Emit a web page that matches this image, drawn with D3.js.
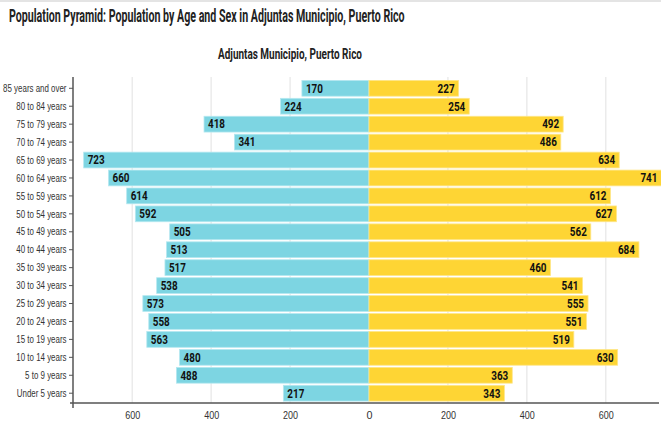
<!DOCTYPE html>
<html lang="en">
<head>
<meta charset="utf-8">
<title>Population Pyramid</title>
<script src="https://d3js.org/d3.v7.min.js"></script>
<style>
  body { margin: 0; background: #fff; font-family: Roboto, "Liberation Sans", sans-serif; }
  .bar-label { font-weight: 700; font-size: 12px; fill: #111; }
  .axis text { font-size: 11.5px; fill: #333; }
  .axis path, .axis line { stroke: #555; }
</style>
</head>
<body>
<div class="chart"></div>
<script>
// age groups, top to bottom
const ageGroups = ["85 years and over", "80 to 84 years", "75 to 79 years", "70 to 74 years",
  "65 to 69 years", "60 to 64 years", "55 to 59 years", "50 to 54 years", "45 to 49 years",
  "40 to 44 years", "35 to 39 years", "30 to 34 years", "25 to 29 years", "20 to 24 years",
  "15 to 19 years", "10 to 14 years", "5 to 9 years", "Under 5 years"];
const male   = [170, 224, 418, 341, 723, 660, 614, 592, 505, 513, 517, 538, 573, 558, 563, 480, 488, 217];
const female = [227, 254, 492, 486, 634, 741, 612, 627, 562, 684, 460, 541, 555, 551, 519, 630, 363, 343];
const xTicks = [-600, -400, -200, 0, 200, 400, 600];

const width = 661, height = 427;
const svg = d3.select('.chart').append('svg')
    .attr('width', width)
    .attr('height', height);

// squeeze a text horizontally so it fits a given width (condensed look)
function condense(sel, left, wanted) {
    sel.each(function() {
        const w = this.getComputedTextLength();
        const k = wanted / w;
        d3.select(this).attr('x', left / k).attr('transform', 'scale(' + k + ',1)');
    });
}

// faint header shadow at the top
svg.append('rect').attr('x', 0).attr('y', 0).attr('width', width).attr('height', 2).attr('fill', '#e4e4e4');

svg.append('text')
    .attr('y', 22)
    .attr('font-size', 19).attr('font-weight', 700).attr('fill', '#222')
    .text('Population Pyramid: Population by Age and Sex in Adjuntas Municipio, Puerto Rico')
    .call(condense, 9, 396);

svg.append('text')
    .attr('y', 59)
    .attr('font-size', 14.5).attr('font-weight', 700).attr('fill', '#222')
    .text('Adjuntas Municipio, Puerto Rico')
    .call(condense, 218, 144);

const x = d3.scaleLinear().domain([-750, 750]).range([73, 665]);
const y = d3.scaleBand().domain(ageGroups).range([79.5, 402]).paddingInner(0.12).paddingOuter(0.05);

// gridlines
svg.selectAll('.grid')
    .data(xTicks.filter(d => d !== 0))
    .enter().append('line')
    .attr('x1', d => x(d)).attr('x2', d => x(d))
    .attr('y1', 77).attr('y2', 403)
    .attr('stroke', '#e6e6e6').attr('stroke-width', 1.2);

const rows = ageGroups.map((g, i) => ({group: g, male: male[i], female: female[i]}));

svg.selectAll('.male')
    .data(rows).enter().append('rect')
    .attr('x', d => x(-d.male))
    .attr('y', d => y(d.group))
    .attr('width', d => x(0) - x(-d.male))
    .attr('height', y.bandwidth())
    .attr('fill', '#7dd5e2')
    .attr('stroke', '#b5e8f0').attr('stroke-width', 0.8);

svg.selectAll('.female')
    .data(rows).enter().append('rect')
    .attr('x', x(0))
    .attr('y', d => y(d.group))
    .attr('width', d => x(d.female) - x(0))
    .attr('height', y.bandwidth())
    .attr('fill', '#fed534')
    .attr('stroke', '#fee68a').attr('stroke-width', 0.8);

svg.selectAll('.mlabel')
    .data(rows).enter().append('text')
    .attr('class', 'bar-label')
    .attr('x', d => x(-d.male) + 4)
    .attr('y', d => y(d.group) + y.bandwidth() / 2)
    .attr('dy', '0.36em')
    .attr('textLength', 17).attr('lengthAdjust', 'spacingAndGlyphs')
    .text(d => d.male);

svg.selectAll('.flabel')
    .data(rows).enter().append('text')
    .attr('class', 'bar-label')
    .attr('x', d => x(d.female) - 4 - 17)
    .attr('y', d => y(d.group) + y.bandwidth() / 2)
    .attr('dy', '0.36em')
    .attr('textLength', 17).attr('lengthAdjust', 'spacingAndGlyphs')
    .text(d => d.female);

// x axis
const xAxis = svg.append('g')
    .attr('class', 'axis')
    .attr('transform', 'translate(0,403)')
    .call(d3.axisBottom(x).tickValues(xTicks).tickFormat(d => Math.abs(d)).tickSize(0).tickPadding(8));
xAxis.select('.domain').attr('d', 'M' + (x.range()[0] - 3) + ',0H659').attr('stroke-width', 1.5);
xAxis.selectAll('text').attr('textLength', 15).attr('lengthAdjust', 'spacingAndGlyphs');
xAxis.selectAll('text').filter(d => d === 0).attr('textLength', 6);

// y axis
const yScaleX = 0.69;
const yAxis = svg.append('g')
    .attr('class', 'axis')
    .attr('transform', 'translate(73,0)')
    .call(d3.axisLeft(y).tickSize(4).tickPadding(3));
yAxis.select('.domain').attr('d', 'M0,77V408').attr('stroke-width', 1.5);
yAxis.selectAll('text').attr('font-size', 11).attr('transform', 'scale(' + yScaleX + ',1)')
    .attr('x', -6.5 / yScaleX);
</script>
</body>
</html>
